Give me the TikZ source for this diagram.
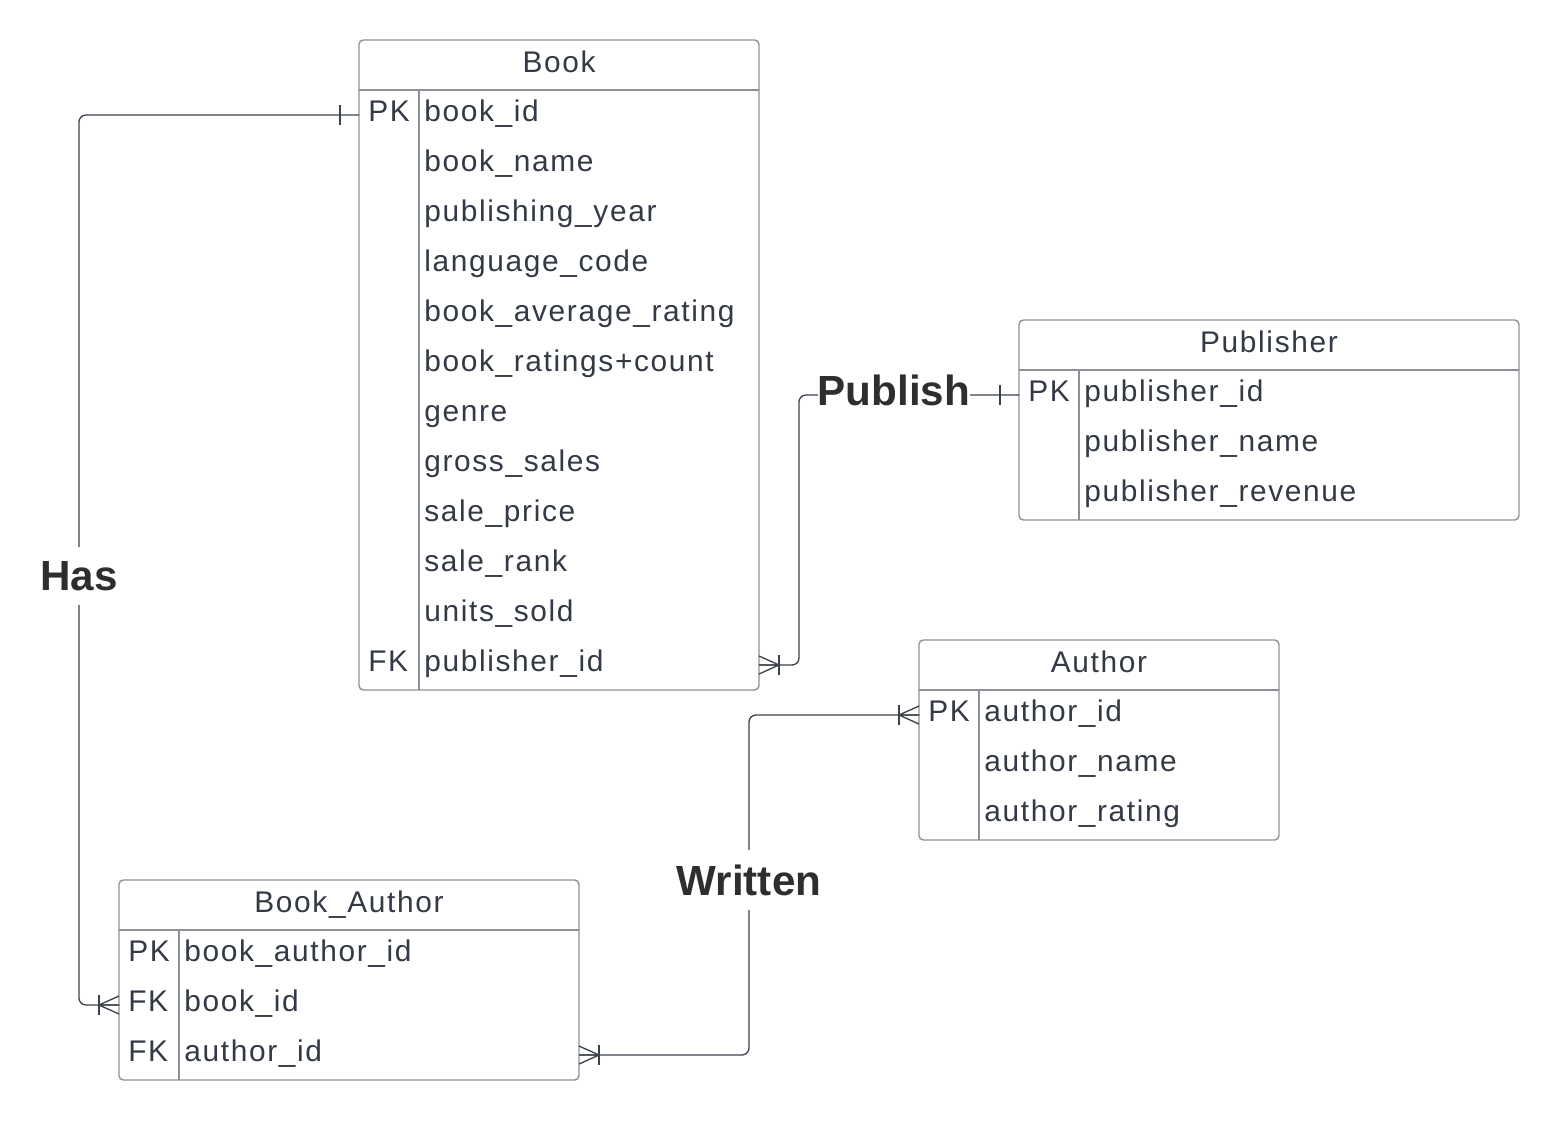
\documentclass[tikz,border=0pt]{standalone}
\usepackage{fontspec}
\setmainfont{Liberation Sans}
\newfontfamily\fieldfont{Liberation Sans}[LetterSpace=5.5]
\usetikzlibrary{calc}
\definecolor{inkcol}{HTML}{333A45}
\definecolor{framecol}{HTML}{8C9096}
\definecolor{linkcol}{HTML}{3B424C}
\tikzset{
	frame/.style={draw=framecol, line width=0.8pt},
	field/.style={anchor=base west, inner sep=0pt, text=inkcol, font=\fieldfont\fontsize{17}{20}\selectfont},
	title/.style={anchor=base, inner sep=0pt, text=inkcol, font=\fieldfont\fontsize{17}{20}\selectfont},
	link/.style={draw=linkcol, line width=0.75pt},
	rel/.style={fill=white, inner sep=1.5pt, text=black!82, font=\bfseries\fontsize{24}{28}\selectfont},
}
% box of one entity: (x1,y1)(x2,y2) with key column border at x
\def\erframe(#1,#2)(#3,#4)[#5]{\draw[frame, rounded corners=2.5pt] (#1,#2) rectangle (#3,#4);
	\draw[frame] (#1,#2+50) -- (#3,#2+50); \draw[frame] (#5,#2+50) -- (#5,#4);}
% crow's foot and single bar, #2 = side (-1 left, 1 right)
\def\crowfoot(#1)[#2]{\draw[link] ($(#1)+(#2*20,0)$) -- ($(#1)+(0,-9)$) ($(#1)+(#2*20,0)$) -- (#1) ($(#1)+(#2*20,0)$) -- ($(#1)+(0,9)$);
	\draw[link] ($(#1)+(#2*20,-10)$) -- ($(#1)+(#2*20,10)$);}
\def\onebar(#1)[#2]{\draw[link] ($(#1)+(#2*19,-10)$) -- ($(#1)+(#2*19,10)$);}

\begin{document}
\begin{tikzpicture}[x=0.02cm, y=-0.02cm]
	%%%%% START %%%%%
	\useasboundingbox (0,0) rectangle (1559,1120);

	%%%%% Book
	\erframe(359,40)(759,690)[419]
	\node[title] (book) at (559,72) {Book};
	\foreach \fname [count=\i] in {book\_id, book\_name, publishing\_year, language\_code, book\_average\_rating, book\_ratings+count, genre, gross\_sales, sale\_price, sale\_rank, units\_sold, publisher\_id}
		\node[field] (book-\i) at (424,71+50*\i) {\fname};
	\node[field] (book-pk) at (368,121) {PK};
	\node[field] (book-fk) at (368,671) {FK};

	%%%%% Publisher
	\erframe(1019,320)(1519,520)[1079]
	\node[title] (pub) at (1269,352) {Publisher};
	\foreach \fname [count=\i] in {publisher\_id, publisher\_name, publisher\_revenue}
		\node[field] (pub-\i) at (1084,351+50*\i) {\fname};
	\node[field] (pub-pk) at (1028,401) {PK};

	%%%%% Author
	\erframe(919,640)(1279,840)[979]
	\node[title] (auth) at (1099,672) {Author};
	\foreach \fname [count=\i] in {author\_id, author\_name, author\_rating}
		\node[field] (auth-\i) at (984,671+50*\i) {\fname};
	\node[field] (auth-pk) at (928,721) {PK};

	%%%%% Book_Author
	\erframe(119,880)(579,1080)[179]
	\node[title] (ba) at (349,912) {Book\_Author};
	\foreach \fname [count=\i] in {book\_author\_id, book\_id, author\_id}
		\node[field] (ba-\i) at (184,911+50*\i) {\fname};
	\node[field] (ba-pk) at (128,961) {PK};
	\node[field] (ba-fk1) at (128,1011) {FK};
	\node[field] (ba-fk2) at (128,1061) {FK};

	%%%%% links
	\coordinate (bookPK) at (359,115);
	\coordinate (baBook) at (119,1005);
	\coordinate (bookPub) at (759,665);
	\coordinate (pubPK) at (1019,395);
	\coordinate (baAuth) at (579,1055);
	\coordinate (authPK) at (919,715);

	\draw[link, rounded corners=4pt] (bookPK) -- ++(-280,0) |- (baBook);
	\onebar(bookPK)[-1]
	\crowfoot(baBook)[-1]

	\draw[link, rounded corners=4pt] (bookPub) -- ++(40,0) |- (pubPK);
	\crowfoot(bookPub)[1]
	\onebar(pubPK)[-1]

	\draw[link, rounded corners=4pt] (baAuth) -- ++(170,0) |- (authPK);
	\crowfoot(baAuth)[1]
	\crowfoot(authPK)[-1]

	\node[rel, inner ysep=8pt] (has) at (79,576) {Has};
	\node[rel, inner xsep=0pt] (publish) at (894,390) {Publish};
	\node[rel, inner ysep=8pt] (written) at (749,880) {Written};
	%%%%% END %%%%%
\end{tikzpicture}
\end{document}
